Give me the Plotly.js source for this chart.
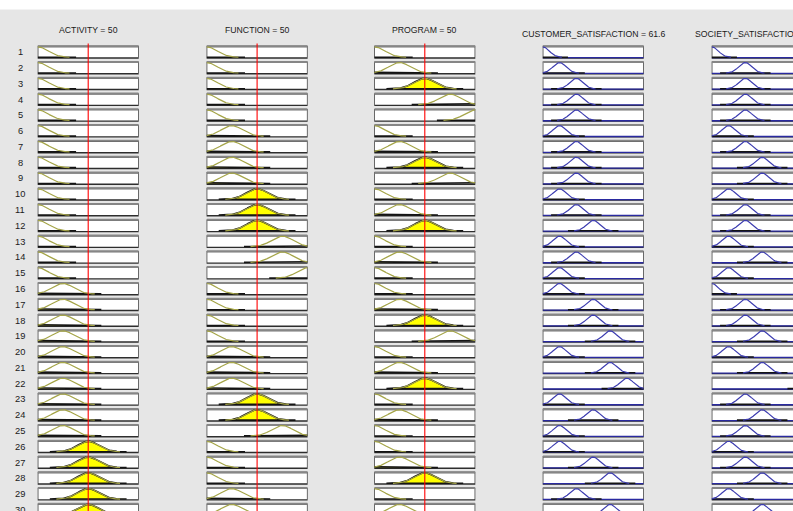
<!DOCTYPE html>
<html>
<head>
<meta charset="utf-8">
<script src="https://cdn.plot.ly/plotly-3.0.1.min.js"></script>
<style>
html,body{margin:0;padding:0;background:#e6e6e6;overflow:hidden;}
#chart{width:793px;height:511px;}
</style>
</head>
<body>
<div id="chart"></div>
<script>
// ---------------- DATA ----------------
const ruleNumbers = [1,2,3,4,5,6,7,8,9,10,11,12,13,14,15,16,17,18,19,20,21,22,23,24,25,26,27,28,29,30];
const variableNames = ['ACTIVITY','FUNCTION','PROGRAM','CUSTOMER_SATISFACTION','SOCIETY_SATISFACTION'];
const inputValues = [50, 50, 50];
const customerOutputValue = 61.6;
// membership-function index (1-based) used by each rule, per variable
const activityMF = [1,1,1,1,1,1,1,1,1,1,1,1,1,1,1,2,2,2,2,2,2,2,2,2,2,3,3,3,3,3];
const functionMF = [1,1,1,1,1,2,2,2,2,3,3,3,4,4,5,1,1,1,1,2,2,2,3,3,4,1,1,1,2,2];
const programMF  = [1,2,3,4,5,1,2,3,4,1,2,3,1,2,1,1,2,3,4,1,2,3,1,2,1,1,2,3,1,2];
const customerMF = [1,2,3,3,3,2,3,3,3,2,3,4,2,3,2,2,4,4,5,2,5,6,2,4,2,2,4,5,3,5];
const societyMF  = [1,3,3,3,3,2,3,4,4,2,3,3,2,4,2,1,3,3,4,2,4,7,3,4,3,2,3,4,2,4];
// membership-function centres on the 0..100 universe
const inputMFCenters  = [0, 25, 50, 75, 100];
const outputMFCenters = [0, 16.7, 33.3, 50, 66.7, 83.3, 100];

// ---------------- STYLE / GEOMETRY ----------------
const W = 793, H = 511;
const ROW_PX = 15.78, TOP_PX = 46.5, BOX_PX = 11.5;
const BOXH = BOX_PX / ROW_PX;
const yTopRange = TOP_PX / ROW_PX;
const yBotRange = -(H - TOP_PX) / ROW_PX;
const colLeft = [37.7, 206.6, 374.3, 542.7, 711.7];
const colW = 101;
const sigIn = 10.6, supIn = 38, sigOut = 6.5, supOut = 25;
const FONT = 'Liberation Sans, Arial, sans-serif';

function gauss(x, c, s) { return Math.exp(-((x - c) * (x - c)) / (2 * s * s)); }
const ruleMFs = [activityMF, functionMF, programMF, customerMF, societyMF];

// input degrees and rule strengths
const inDeg = [0,1,2].map(k => ruleMFs[k].map(m => gauss(inputValues[k], inputMFCenters[m-1], sigIn)));
const strength = ruleNumbers.map((r, i) => Math.min(inDeg[0][i], inDeg[1][i], inDeg[2][i]));

const traces = [];
const redTraces = [];
const shapes = [];
const annotations = [];

for (let k = 0; k < 5; k++) {
  const isIn = k < 3;
  const axName = k === 0 ? 'x' : 'x' + (k + 1);
  const centers = isIn ? inputMFCenters : outputMFCenters;
  const sig = isIn ? sigIn : sigOut;
  const sup = isIn ? supIn : supOut;
  const lineColor = isIn ? '#a5a548' : '#3c3cb0';
  const fillColor = isIn ? '#ffff00' : '#4040c0';
  const px = [], py = [], lx = [], ly = [], bx = [], by = [];
  ruleNumbers.forEach((r, i) => {
    const top = -(r - 1);
    const base = top - BOXH;
    const c = centers[ruleMFs[k][i] - 1];
    const d = isIn ? inDeg[k][i] : strength[i];
    const lo = Math.max(0, c - sup), hi = Math.min(100, c + sup);
    const pb = base + 0.05;
    // clipped patch
    for (let x = lo; x <= hi + 1e-9; x += 0.5) {
      px.push(x); py.push(pb + (BOXH - 0.07) * Math.min(gauss(x, c, sig), d));
    }
    px.push(hi, lo, null); py.push(pb, pb, null);
    // membership function line
    let started = false;
    for (let x = lo; x <= hi + 1e-9; x += 0.5) {
      const m = gauss(x, c, sig);
      if (m >= 0.012) { lx.push(x); ly.push(base + 0.04 + (BOXH - 0.06) * m); started = true; }
    }
    if (started) { lx.push(null); ly.push(null); }
    // box
    shapes.push({type:'rect', xref:axName, yref:'y', x0:0, x1:100, y0:base, y1:top,
      fillcolor:'#ffffff', line:{color:'#2e2e2e', width:1.4}, layer:'below'});
    shapes.push({type:'line', xref:axName, yref:'y', x0:0, x1:100, y0:top+0.02, y1:top+0.02,
      line:{color:'#868686', width:2}, layer:'below'});
    if (!isIn) { bx.push(0, 100, null); by.push(base + 0.025, base + 0.025, null); }
  });
  if (!isIn) {
    traces.push({type:'scatter', mode:'lines', x:bx, y:by, xaxis:axName, yaxis:'y',
      line:{color:'#2a2aa0', width:1.3}, hoverinfo:'skip', showlegend:false});
  }
  traces.push({type:'scatter', mode:'lines', x:px, y:py, xaxis:axName, yaxis:'y',
    fill:'toself', fillcolor:fillColor, line:{color:'#141414', width:1.6},
    hoverinfo:'skip', showlegend:false});
  traces.push({type:'scatter', mode:'lines', x:lx, y:ly, xaxis:axName, yaxis:'y',
    line:{color:lineColor, width:1.2}, connectgaps:false, hoverinfo:'skip', showlegend:false});

  // red input indicator
  if (isIn) {
    redTraces.push({type:'scatter', mode:'lines', xaxis:axName, yaxis:'y',
      x:[inputValues[k], inputValues[k]], y:[(TOP_PX - 43.5) / ROW_PX, yBotRange - 1],
      line:{color:'#ff0000', width:1.1}, hoverinfo:'skip', showlegend:false});
  }
  // column titles
  const centerPx = colLeft[k] + colW / 2;
  let titleText;
  if (isIn) titleText = variableNames[k] + ' = ' + inputValues[k];
  else if (k === 3) titleText = variableNames[k] + ' = ' + customerOutputValue;
  else titleText = variableNames[k];
  const ty = isIn ? 29.5 : 33.5;
  annotations.push({xref:'paper', yref:'paper',
    x: k === 4 ? 693.3 / W : centerPx / W, xanchor: k === 4 ? 'left' : 'center',
    y: 1 - ty / H, yanchor:'middle', text:titleText, showarrow:false,
    font:{family:FONT, size:8.7, color:'#1a1a1a'}});
}

// row numbers
ruleNumbers.forEach(r => {
  annotations.push({xref:'paper', yref:'y', x:20 / W, xanchor:'center',
    y: -(r - 1) - BOXH / 2, yanchor:'middle', text:String(r), showarrow:false,
    font:{family:FONT, size:9.3, color:'#1a1a1a'}});
});

// white strip on top
shapes.push({type:'rect', xref:'paper', yref:'paper', x0:0, x1:1, y0:1 - 9.5 / H, y1:1,
  fillcolor:'#ffffff', line:{width:0}, layer:'below'});

const layout = {
  width: W, height: H,
  margin:{l:0, r:0, t:0, b:0, pad:0},
  paper_bgcolor:'#e6e6e6', plot_bgcolor:'rgba(0,0,0,0)',
  showlegend:false,
  yaxis:{domain:[0,1], range:[yBotRange, yTopRange], visible:false, fixedrange:true, anchor:'x'},
  shapes: shapes,
  annotations: annotations
};
for (let k = 0; k < 5; k++) {
  const key = k === 0 ? 'xaxis' : 'xaxis' + (k + 1);
  const d0 = colLeft[k] / W;
  let d1 = (colLeft[k] + colW) / W;
  let rmax = 100;
  if (d1 > 1) { rmax = (W - colLeft[k]) / colW * 100; d1 = 1; }
  layout[key] = {domain:[d0, d1], range:[0, rmax], visible:false, fixedrange:true, anchor:'y'};
}

Plotly.newPlot('chart', traces.concat(redTraces), layout, {staticPlot:true, displayModeBar:false});
</script>
</body>
</html>
